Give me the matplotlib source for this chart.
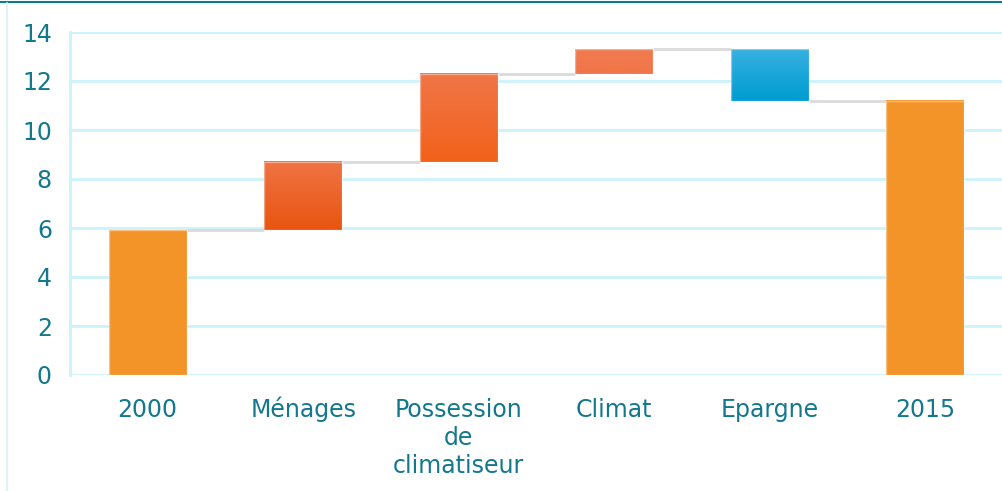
import numpy as np
import matplotlib
matplotlib.use("Agg")
import matplotlib.pyplot as plt
from matplotlib.colors import LinearSegmentedColormap
from matplotlib.lines import Line2D
from matplotlib.transforms import offset_copy

categories = ["2000", "Ménages", "Possession\nde\nclimatiseur", "Climat", "Epargne", "2015"]
start_total = 5.9
changes = [2.8, 3.6, 1.0, -2.1]
end_total = 11.2
yticks = [0, 2, 4, 6, 8, 10, 12, 14]

# (top colour, bottom colour) for each bar
bar_colors = [
    ("#F39429", "#F39429"),
    ("#F07344", "#E85510"),
    ("#F07548", "#F2621A"),
    ("#F07C50", "#F07448"),
    ("#36B0E0", "#009DD2"),
    ("#F39429", "#F39429"),
]

text_color = "#13788C"
grid_color = "#CCF3FB"

fig = plt.figure(figsize=(10.03, 4.91), dpi=100)
ax = fig.add_axes([70 / 1003, (491 - 375) / 491, 1 - 70 / 1003, (375 - 32) / 491])

# bottoms and tops of the floating bars
levels = [start_total]
for c in changes:
    levels.append(levels[-1] + c)
bottoms = [0.0]
tops = [start_total]
for i, c in enumerate(changes):
    lo, hi = sorted([levels[i], levels[i + 1]])
    bottoms.append(lo)
    tops.append(hi)
bottoms.append(0.0)
tops.append(end_total)

width = 0.5
x = np.arange(len(categories))

for yv in yticks:
    ax.axhline(yv, color=grid_color, lw=2, zorder=0)

for i in range(len(categories)):
    c_top, c_bot = bar_colors[i]
    cmap = LinearSegmentedColormap.from_list(f"g{i}", [c_bot, c_top])
    grad = np.linspace(0, 1, 100).reshape(-1, 1)
    ax.imshow(grad, cmap=cmap, origin="lower", aspect="auto",
              extent=[x[i] - width / 2, x[i] + width / 2, bottoms[i], tops[i]],
              zorder=3)
    ax.add_patch(plt.Rectangle((x[i] - width / 2, bottoms[i]), width, tops[i] - bottoms[i],
                               fill=False, ec="white", lw=1, alpha=0.4, zorder=4))

# connectors between consecutive bars
for i in range(len(categories) - 1):
    lvl = levels[i] if i < len(levels) else end_total
    ax.plot([x[i] + width / 2, x[i + 1] - width / 2], [lvl, lvl],
            color="#DADADA", lw=2, zorder=2, solid_capstyle="butt")

ax.set_xlim(-0.5, 5.5)
ax.set_ylim(0, 14)
ax.set_yticks(yticks)
ax.set_yticklabels([str(v) for v in yticks])
ax.set_xticks(x)
ax.set_xticklabels([])
ax.tick_params(axis="both", length=0, labelsize=17, labelcolor=text_color)
ax.tick_params(axis="y", pad=13)

# category labels, one text per line so every baseline sits on the same rows
for xi, name in zip(x, categories):
    for k, line in enumerate(name.split("\n")):
        tr = offset_copy(ax.get_xaxis_transform(), fig=fig, x=0, y=-42 - 28 * k, units="dots")
        ax.text(xi, 0, line, transform=tr, ha="center", va="baseline",
                fontsize=17, color=text_color, clip_on=False)

for side in ["top", "right", "bottom"]:
    ax.spines[side].set_visible(False)
ax.spines["left"].set_color(grid_color)
ax.spines["left"].set_linewidth(2)

# outer frame
fig.add_artist(Line2D([0, 1], [1 - 2 / 491, 1 - 2 / 491], color="#0A7A90", lw=1.5,
                      transform=fig.transFigure))
fig.add_artist(Line2D([7.5 / 1003, 7.5 / 1003], [0, 1 - 3 / 491], color="#D6F3FA", lw=1.2,
                      transform=fig.transFigure))

fig.savefig("out.png", dpi=100)
